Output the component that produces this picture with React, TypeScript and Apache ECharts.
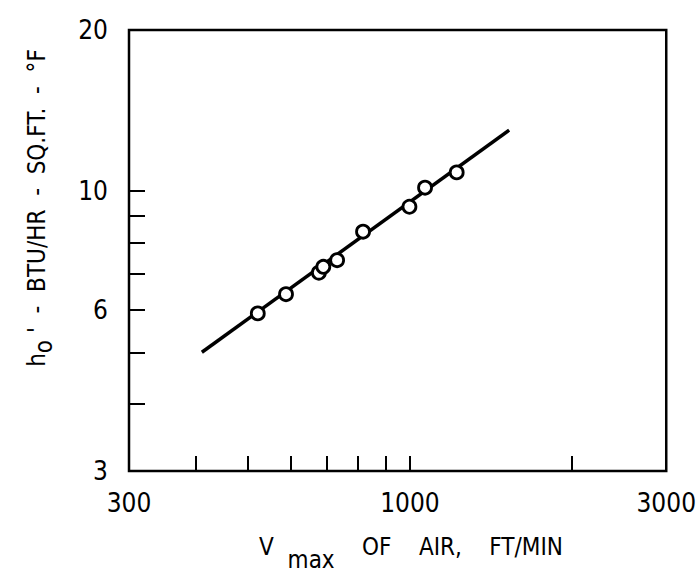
import React, { useEffect, useRef } from 'react';
import * as echarts from 'echarts';

// Measured points: V_max of air (ft/min) vs h_o' (BTU/hr-sq.ft.-°F)
const velocity = [521, 588, 677, 690, 732, 818, 998, 1067, 1222];
const coefficient = [5.91, 6.42, 7.04, 7.22, 7.43, 8.4, 9.35, 10.15, 10.84];

// Fitted straight line (log-log)
const fitVelocity = [410, 1530];
const fitCoefficient = [5.0, 13.0];

// Axis ticks and labels
const xTickValues = [400, 500, 600, 700, 800, 900, 1000, 2000];
const xLabelValues = [300, 1000, 3000];
const yTickValues = [4, 5, 6, 7, 8, 9, 10];
const yLabelValues = [3, 6, 10, 20];

const NUM_FONT = "'DejaVu Sans Condensed', 'DejaVu Sans', sans-serif";
const TITLE_FONT = "'DejaVu Sans Condensed', 'DejaVu Sans', sans-serif";

export default function App() {
  const ref = useRef<HTMLDivElement>(null);

  useEffect(() => {
    if (!ref.current) return;
    const chart = echarts.init(ref.current, undefined, { renderer: 'svg' });

    const points = velocity.map((v, i) => [v, coefficient[i]]);
    const fit = fitVelocity.map((v, i) => [v, fitCoefficient[i]]);
    const fmt = (v: number) => String(Math.round(v * 100) / 100);

    chart.setOption({
      animation: false,
      backgroundColor: '#fff',
      grid: {
        left: 129,
        top: 30,
        width: 540,
        height: 441,
        show: true,
        borderColor: '#000',
        borderWidth: 2.5,
        backgroundColor: 'transparent',
      },
      xAxis: {
        type: 'log',
        logBase: 10,
        min: 300,
        max: 3000,
        axisLine: { show: false },
        splitLine: { show: false },
        axisTick: {
          show: true,
          inside: true,
          length: 15,
          customValues: xTickValues,
          lineStyle: { color: '#000', width: 2 },
        },
        axisLabel: {
          customValues: xLabelValues,
          formatter: fmt,
          margin: 19,
          fontSize: 26,
          color: '#000',
          fontFamily: NUM_FONT,
        },
      },
      yAxis: {
        type: 'log',
        logBase: 10,
        min: 3,
        max: 20,
        axisLine: { show: false },
        splitLine: { show: false },
        axisTick: {
          show: true,
          inside: true,
          length: 16,
          customValues: yTickValues,
          lineStyle: { color: '#000', width: 2 },
        },
        axisLabel: {
          customValues: yLabelValues,
          formatter: fmt,
          margin: 21,
          fontSize: 26,
          color: '#000',
          fontFamily: NUM_FONT,
        },
      },
      graphic: [
        {
          type: 'text',
          x: 411,
          y: 535,
          style: {
            text: '{n|V  }{s|max}{n|    OF    AIR,    FT/MIN}',
            align: 'center',
            verticalAlign: 'top',
            fill: '#000',
            rich: {
              n: { fontSize: 24, fontFamily: TITLE_FONT, lineHeight: 24, verticalAlign: 'top', fill: '#000' },
              s: { fontSize: 24, fontFamily: TITLE_FONT, lineHeight: 24, padding: [13, 0, 0, 0], verticalAlign: 'top', fill: '#000' },
            },
          },
        },
        {
          type: 'text',
          x: 37,
          y: 208,
          rotation: Math.PI / 2,
          style: {
            text: "{n|h}{s|o}{n| '  -  BTU/HR  -  SQ.FT.  -  °F}",
            align: 'center',
            verticalAlign: 'middle',
            fill: '#000',
            rich: {
              n: { fontSize: 24, fontFamily: TITLE_FONT, lineHeight: 24, verticalAlign: 'top', fill: '#000' },
              s: { fontSize: 24, fontFamily: TITLE_FONT, lineHeight: 24, padding: [7, 0, 0, 0], verticalAlign: 'top', fill: '#000' },
            },
          },
        },
      ],
      series: [
        {
          type: 'line',
          data: fit,
          symbol: 'none',
          lineStyle: { color: '#000', width: 3.5 },
          z: 2,
        },
        {
          type: 'scatter',
          data: points,
          symbol: 'circle',
          symbolSize: 13,
          itemStyle: { color: '#fff', borderColor: '#000', borderWidth: 2.8, opacity: 1 },
          z: 3,
        },
      ],
    });

    return () => chart.dispose();
  }, []);

  return <div ref={ref} style={{ width: 699, height: 581, position: 'absolute', left: 0, top: 0 }} />;
}
